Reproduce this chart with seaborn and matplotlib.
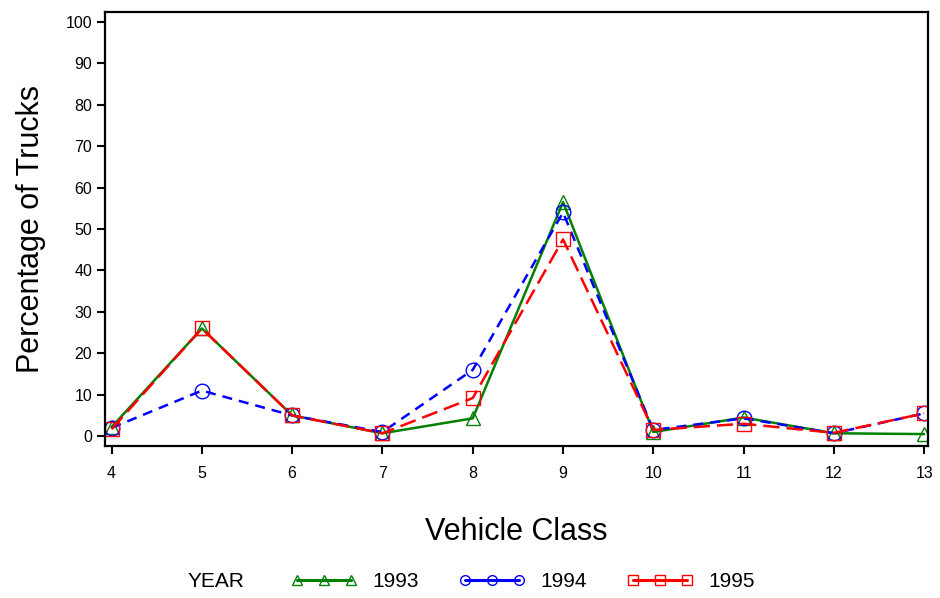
import matplotlib
matplotlib.use("Agg")
import matplotlib.pyplot as plt
from matplotlib.lines import Line2D
import seaborn as sns
import pandas as pd

# values
vehicle_class = [4, 5, 6, 7, 8, 9, 10, 11, 12, 13]
pct_1993 = [2.2, 26.0, 5.0, 0.7, 4.3, 56.5, 1.0, 4.5, 0.7, 0.5]
pct_1994 = [2.0, 11.0, 5.0, 1.0, 16.0, 54.0, 1.5, 4.3, 0.7, 5.5]
pct_1995 = [1.7, 26.0, 5.0, 0.7, 9.2, 47.5, 1.5, 3.0, 0.8, 5.5]
years = ["1993", "1994", "1995"]

df = pd.concat([
    pd.DataFrame({"Vehicle Class": vehicle_class, "Percentage": v, "YEAR": y})
    for y, v in zip(years, [pct_1993, pct_1994, pct_1995])
])

sns.set_theme(style="ticks")
plt.rcParams["font.family"] = ["Liberation Sans", "DejaVu Sans"]
plt.rcParams["text.color"] = "black"
plt.rcParams["axes.labelcolor"] = "black"

colors = {"1993": "#008000", "1994": "#0000ff", "1995": "#ff0000"}
markers = {"1993": "^", "1994": "o", "1995": "s"}
dashes = {"1993": "", "1994": (4, 2.8), "1995": (6.5, 2.8)}

fig = plt.figure(figsize=(9.4, 5.98), dpi=100)
ax = fig.add_axes([0.112, 0.254, 0.875, 0.726])

sns.lineplot(data=df, x="Vehicle Class", y="Percentage", hue="YEAR", style="YEAR",
             palette=colors, markers=markers, dashes=dashes, linewidth=1.8,
             markersize=10.5, legend=False, ax=ax)

for line, y in zip(ax.lines, years):
    line.set_markerfacecolor("none")
    line.set_markeredgecolor(colors[y])
    line.set_markeredgewidth(1.0)
    line.set_alpha(1)

ax.set_xlim(3.93, 13.04)
ax.set_ylim(-2.4, 102.4)
ax.set_xticks(vehicle_class)
ax.set_yticks(range(0, 101, 10))
ax.tick_params(direction="out", length=6, width=1.5, labelsize=11.5, colors="black")
ax.tick_params(axis="x", pad=8)
for s in ax.spines.values():
    s.set_linewidth(1.6)
    s.set_color("black")
ax.set_xlabel("Vehicle Class", fontsize=22, labelpad=26)
ax.set_ylabel("Percentage of Trucks", fontsize=22, labelpad=14)

# legend at the bottom
handles = [Line2D([], [], color=colors[y], marker=markers[y], markersize=7,
                  markerfacecolor="none", markeredgewidth=1.0, linewidth=2.2,
                  linestyle="-") for y in years]
fig.legend(handles, years, loc="center", bbox_to_anchor=(0.556, 0.027),
           ncol=3, frameon=False, fontsize=15, numpoints=3,
           handlelength=3.2, handletextpad=0.72, columnspacing=1.9)
fig.text(0.199, 0.027, "YEAR", fontsize=15, ha="left", va="center")

fig.savefig("out.png", dpi=100)
